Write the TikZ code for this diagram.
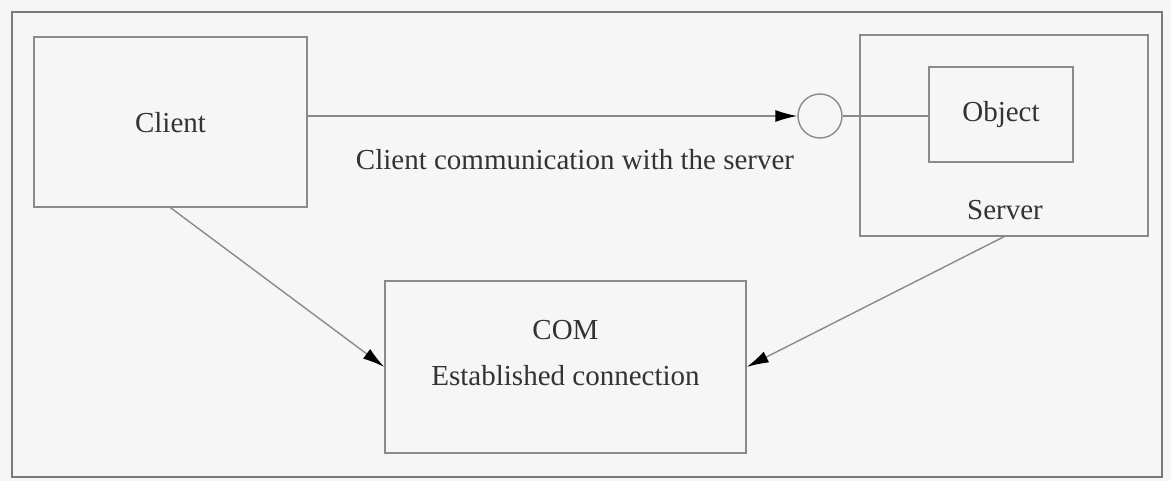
\documentclass[tikz,border=0pt]{standalone}
\usepackage{fontspec}
\setmainfont{Liberation Serif}
\usetikzlibrary{arrows.meta,calc}
\definecolor{linegray}{HTML}{8A8A8A}
\definecolor{framegray}{HTML}{7A7A7A}
\definecolor{textgray}{HTML}{333333}
\definecolor{paper}{HTML}{F6F6F6}
\begin{document}
\begin{tikzpicture}[x=1pt,y=-1pt,
  box/.style={draw=linegray,line width=1.4pt,minimum width=#1,inner sep=0pt},
  label/.style={text=textgray,font=\fontsize{29}{34}\selectfont,inner sep=0pt},
  conn/.style={draw=linegray,line width=1.4pt},
  tip/.style={-{Latex[length=22pt,width=12pt,black]}}]
  % page and outer frame
  \fill[paper] (0,0) rectangle (1171,481);
  \useasboundingbox (0,0) rectangle (1171,481);
  \draw[framegray,line width=1.8pt] (12,12) rectangle (1162,477);
  % boxes
  \node[box=273pt,minimum height=170pt] (client) at (170.5,122) {};
  \node[box=288pt,minimum height=201pt] (server) at (1004,135.5) {};
  \node[box=144pt,minimum height=95pt] (obj) at (1001,114.5) {};
  \node[box=361pt,minimum height=172pt] (com) at (565.5,367) {};
  \node[circle,draw=linegray,line width=1.4pt,minimum size=44pt,inner sep=0pt] (circ) at (820,116) {};
  % texts
  \node[label] (tclient) at (170.5,123) {Client};
  \node[label] (tobj) at (1001,115) {Object};
  \node[label] (tserver) at (1005,210) {Server};
  \node[label] (tcom) at (565.5,330) {COM};
  \node[label] (testab) at (565.5,376) {Established connection};
  \node[label] (tcomm) at (575,160) {Client communication with the server};
  % connectors
  \draw[conn,tip] (circ -| client.east) -- (circ.west);
  \draw[conn] (circ.east) -- (circ.east -| obj.west);
  \draw[conn,tip] (client.south) -- (com.west);
  \draw[conn,tip] (server.south) -- (com.east);
\end{tikzpicture}
\end{document}
